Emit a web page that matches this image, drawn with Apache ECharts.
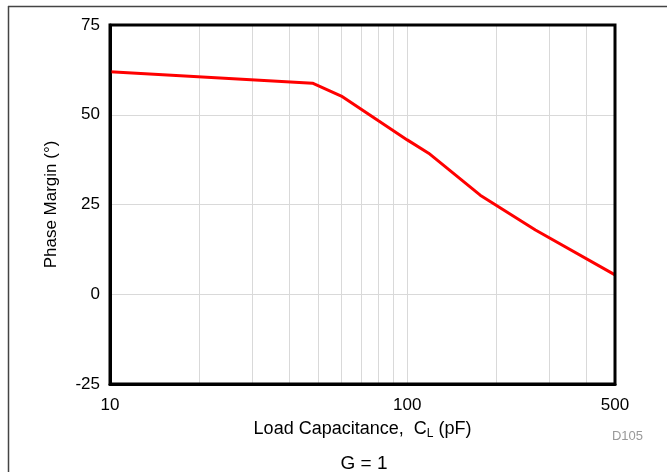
<!DOCTYPE html>
<html>
<head>
<meta charset="utf-8">
<script src="https://cdn.jsdelivr.net/npm/echarts@6/dist/echarts.min.js"></script>
<style>
  html, body { margin: 0; padding: 0; background: #fff; }
  #chart { width: 667px; height: 472px; }
</style>
</head>
<body>
<div id="chart"></div>
<script>
// load capacitance (pF) vs phase margin (deg)
const capacitance = [10, 48, 60, 80, 100, 118, 176, 270, 500];
const phaseMargin = [62.0, 58.8, 55.2, 48.3, 43.0, 39.3, 27.6, 17.9, 5.4];

const xGridValues = [10, 20, 30, 40, 50, 60, 70, 80, 90, 100, 200, 300, 400, 500];
const xLabelValues = [10, 100, 500];

const font = 'Liberation Sans, Arial, sans-serif';

const chart = echarts.init(document.getElementById('chart'));

chart.setOption({
  animation: false,
  grid: {
    left: 110,
    right: 52,
    top: 25,
    bottom: 88,
    show: true,
    borderColor: '#000',
    borderWidth: 3,
    z: 10,
  },
  xAxis: {
    type: 'log',
    logBase: 10,
    min: 10,
    max: 500,
    name: 'Load Capacitance,  C{sub|L} (pF)',
    nameLocation: 'middle',
    nameGap: 34,
    nameTextStyle: {
      fontFamily: font,
      fontSize: 18,
      color: '#000',
      rich: {
        sub: { fontFamily: font, fontSize: 12, color: '#000', padding: [10, 0, 0, 0] },
      },
    },
    axisLine: { show: true, onZero: false, lineStyle: { color: '#000', width: 3 } },
    axisTick: { show: false, customValues: xGridValues },
    axisLabel: {
      customValues: xLabelValues,
      fontFamily: font,
      fontSize: 17,
      color: '#000',
      margin: 13,
    },
    splitLine: {
      show: true,
      showMinLine: false,
      showMaxLine: false,
      lineStyle: { color: '#d9d9d9', width: 1 },
    },
    minorTick: { show: false },
  },
  yAxis: {
    type: 'value',
    min: -25,
    max: 75,
    interval: 25,
    name: 'Phase Margin (°)',
    nameLocation: 'middle',
    nameGap: 50,
    nameTextStyle: { fontFamily: font, fontSize: 17, color: '#000' },
    axisLine: { show: true, onZero: false, lineStyle: { color: '#000', width: 3 } },
    axisTick: { show: false },
    axisLabel: { fontFamily: font, fontSize: 17, color: '#000', margin: 10 },
    splitLine: {
      show: true,
      showMinLine: false,
      showMaxLine: false,
      lineStyle: { color: '#d9d9d9', width: 1 },
    },
  },
  series: [
    {
      type: 'line',
      data: capacitance.map((c, i) => [c, phaseMargin[i]]),
      showSymbol: false,
      lineStyle: { color: '#ff0000', width: 3 },
      z: 5,
    },
  ],
  graphic: [
    {
      type: 'line',
      shape: { x1: 8, y1: 6.5, x2: 667, y2: 6.5 },
      style: { stroke: '#444', lineWidth: 1.5 },
    },
    {
      type: 'line',
      shape: { x1: 8.5, y1: 6, x2: 8.5, y2: 472 },
      style: { stroke: '#444', lineWidth: 1.5 },
    },
    {
      type: 'text',
      right: 24,
      top: 430,
      style: { text: 'D105', fontFamily: font, fontSize: 13, fill: '#999' },
    },
    {
      type: 'text',
      x: 364,
      y: 464,
      style: {
        text: 'G = 1',
        fontFamily: font,
        fontSize: 19,
        fill: '#000',
        align: 'center',
        verticalAlign: 'middle',
      },
    },
  ],
});
</script>
</body>
</html>
